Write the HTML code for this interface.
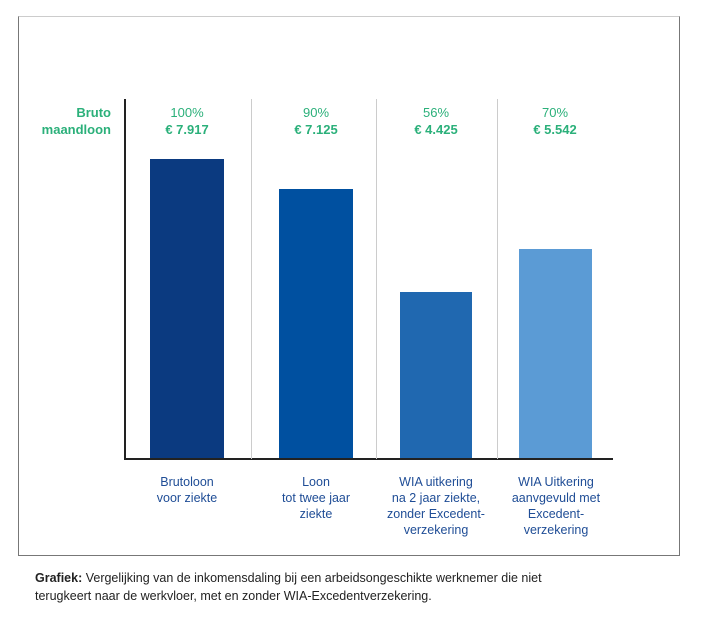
<!DOCTYPE html>
<html><head><style>
body{margin:0;width:720px;height:626px;background:#fff;font-family:"Liberation Sans",sans-serif;position:relative;overflow:hidden}
.a{position:absolute}
.g{color:#2bb07a;font-size:13px;text-align:center;line-height:17px;width:120px}
.l{color:#1f4d96;font-size:12.5px;text-align:center;line-height:16px;width:130px;top:474px}
</style></head><body>
<div class="a" style="left:18px;top:16px;width:660px;height:538px;border:1px solid #777;border-top:1px solid #ccc"></div>
<div class="a" style="left:124px;top:99px;width:2px;height:361px;background:#222"></div>
<div class="a" style="left:124px;top:458px;width:489px;height:2px;background:#222"></div>
<div class="a" style="left:251px;top:99px;width:1px;height:360px;background:#ccc"></div>
<div class="a" style="left:376px;top:99px;width:1px;height:360px;background:#ccc"></div>
<div class="a" style="left:497px;top:99px;width:1px;height:360px;background:#ccc"></div>
<div class="a" style="left:150px;top:159px;width:74px;height:299px;background:#0b3a80"></div>
<div class="a" style="left:279px;top:189px;width:74px;height:269px;background:#0050a0"></div>
<div class="a" style="left:400px;top:292px;width:72px;height:166px;background:#2068b0"></div>
<div class="a" style="left:519px;top:249px;width:73px;height:209px;background:#5b9bd5"></div>
<div class="a g" style="left:-10px;top:104px;width:121px;text-align:right;font-weight:bold">Bruto<br>maandloon</div>
<div class="a g" style="left:127px;top:104px">100%<br><b>€ 7.917</b></div>
<div class="a g" style="left:256px;top:104px">90%<br><b>€ 7.125</b></div>
<div class="a g" style="left:376px;top:104px">56%<br><b>€ 4.425</b></div>
<div class="a g" style="left:495px;top:104px">70%<br><b>€ 5.542</b></div>
<div class="a l" style="left:122px">Brutoloon<br>voor ziekte</div>
<div class="a l" style="left:251px">Loon<br>tot twee jaar<br>ziekte</div>
<div class="a l" style="left:371px">WIA uitkering<br>na 2 jaar ziekte,<br>zonder Excedent-<br>verzekering</div>
<div class="a l" style="left:491px">WIA Uitkering<br>aanvgevuld met<br>Excedent-<br>verzekering</div>
<div class="a" style="left:35px;top:569px;font-size:12.5px;line-height:18px;color:#222"><b>Grafiek:</b> Vergelijking van de inkomensdaling bij een arbeidsongeschikte werknemer die niet<br>terugkeert naar de werkvloer, met en zonder WIA-Excedentverzekering.</div>
</body></html>
